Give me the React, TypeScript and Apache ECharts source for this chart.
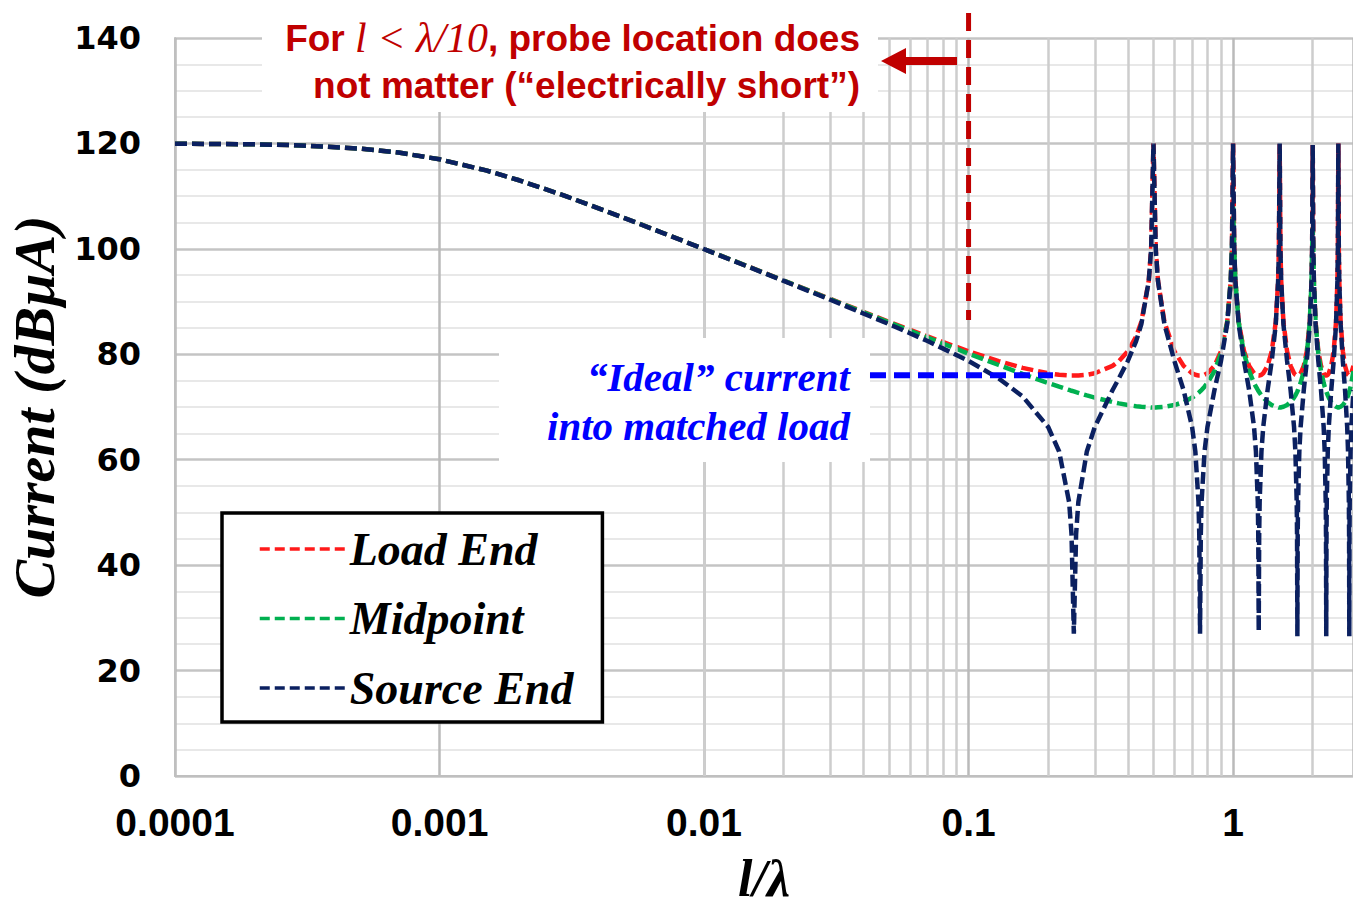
import React, { useEffect, useRef } from 'react';
import * as echarts from 'echarts';

// Electrical length l/λ of the sampled points
const ratio = [
  0.0001, 0.0002, 0.0003, 0.0005, 0.0007, 0.001, 0.0015, 0.002, 0.003, 0.005, 0.007,
  0.01, 0.015, 0.02, 0.03, 0.05, 0.07, 0.1, 0.13, 0.16,
  0.2, 0.22, 0.24, 0.245, 0.25, 0.255, 0.26, 0.28, 0.3, 0.35, 0.37, 0.4, 0.43, 0.45, 0.48, 0.49, 0.5,
  0.51, 0.52, 0.55, 0.6, 0.65, 0.7, 0.72, 0.74, 0.745, 0.75, 0.755, 0.76, 0.78, 0.8, 0.85, 0.9, 0.95, 0.98, 0.99, 1,
  1.01, 1.02, 1.05, 1.1, 1.15, 1.2, 1.22, 1.24, 1.245, 1.25, 1.255, 1.26, 1.28, 1.3, 1.35, 1.4, 1.45, 1.48, 1.49, 1.5,
  1.51, 1.52, 1.55, 1.6, 1.65, 1.7, 1.72, 1.74, 1.745, 1.75, 1.755, 1.76, 1.78, 1.8, 1.85, 1.9, 1.95, 1.98, 1.99, 2,
  2.01, 2.02, 2.05, 2.1, 2.15, 2.2, 2.22, 2.24, 2.245, 2.25, 2.255, 2.26, 2.28, 2.3, 2.35, 2.4, 2.45, 2.48, 2.49, 2.5,
  2.51, 2.52, 2.55, 2.6, 2.65, 2.7, 2.72, 2.74, 2.745, 2.75, 2.755, 2.76, 2.78, 2.8, 2.85,
];

// Current in dBµA at the load end
const loadEnd = [
  119.96, 119.83, 119.63, 119.03, 118.27, 116.99, 114.88, 113.01, 110.0, 105.85, 103.01,
  99.96, 96.47, 93.99, 90.5, 86.16, 83.38, 80.57, 78.71, 77.43,
  76.4, 76.11, 75.98, 75.96, 75.96, 75.96, 75.98, 76.11, 76.4, 77.8, 78.71, 80.57, 83.38, 86.16, 93.99, 99.96, 120,
  99.96, 93.99, 86.16, 80.57, 77.8, 76.4, 76.11, 75.98, 75.96, 75.96, 75.96, 75.98, 76.11, 76.4, 77.8, 80.57, 86.16, 93.99, 99.96, 120,
  99.96, 93.99, 86.16, 80.57, 77.8, 76.4, 76.11, 75.98, 75.96, 75.96, 75.96, 75.98, 76.11, 76.4, 77.8, 80.57, 86.16, 93.99, 99.96, 120,
  99.96, 93.99, 86.16, 80.57, 77.8, 76.4, 76.11, 75.98, 75.96, 75.96, 75.96, 75.98, 76.11, 76.4, 77.8, 80.57, 86.16, 93.99, 99.96, 119.7,
  99.96, 93.99, 86.16, 80.57, 77.8, 76.4, 76.11, 75.98, 75.96, 75.96, 75.96, 75.98, 76.11, 76.4, 77.8, 80.57, 86.16, 93.99, 99.96, 120,
  99.96, 93.99, 86.16, 80.57, 77.8, 76.4, 76.11, 75.98, 75.96, 75.96, 75.96, 75.98, 76.11, 76.4, 77.8,
];

// Current in dBµA at the midpoint of the line
const midpoint = [
  119.96, 119.83, 119.63, 119.03, 118.27, 116.99, 114.88, 113.01, 110.0, 105.85, 103.01,
  99.96, 96.46, 93.97, 90.46, 86.05, 83.17, 80.13, 77.97, 76.28,
  74.56, 73.85, 73.23, 73.08, 72.95, 72.81, 72.69, 72.2, 71.78, 70.94, 70.69, 70.37, 70.15, 70.05, 69.95, 69.9, 69.9,
  69.9, 69.95, 70.05, 70.37, 70.94, 71.78, 72.2, 72.69, 72.81, 72.95, 73.08, 73.23, 73.85, 74.56, 76.8, 80.13, 86.05, 93.97, 99.96, 108,
  99.96, 93.97, 86.05, 80.13, 76.8, 74.56, 73.85, 73.23, 73.08, 72.95, 72.81, 72.69, 72.2, 71.78, 70.94, 70.37, 70.05, 69.95, 69.9, 69.9,
  69.9, 69.95, 70.05, 70.37, 70.94, 71.78, 72.2, 72.69, 72.81, 72.95, 73.08, 73.23, 73.85, 74.56, 76.8, 80.13, 86.05, 93.97, 99.96, 104,
  99.96, 93.97, 86.05, 80.13, 76.8, 74.56, 73.85, 73.23, 73.08, 72.95, 72.81, 72.69, 72.2, 71.78, 70.94, 70.37, 70.05, 69.95, 69.9, 69.9,
  69.9, 69.95, 70.05, 70.37, 70.94, 71.78, 72.2, 72.69, 72.81, 72.95, 73.08, 73.23, 73.85, 74.56, 76.8,
];

// Current in dBµA at the source end
const sourceEnd = [
  119.96, 119.83, 119.63, 119.03, 118.27, 116.99, 114.88, 113.01, 110.0, 105.84, 103.0,
  99.94, 96.43, 93.92, 90.35, 85.72, 82.51, 78.73, 75.42, 72.01,
  66.2, 61.56, 51.94, 45.9, 27, 45.9, 51.94, 61.56, 66.2, 73.18, 75.42, 78.73, 82.51, 85.72, 93.92, 99.94, 120,
  99.94, 93.92, 85.72, 78.73, 73.18, 66.2, 61.56, 51.94, 45.9, 27, 45.9, 51.94, 61.56, 66.2, 73.18, 78.73, 85.72, 93.92, 99.94, 120,
  99.94, 93.92, 85.72, 78.73, 73.18, 66.2, 61.56, 51.94, 45.9, 27.5, 45.9, 51.94, 61.56, 66.2, 73.18, 78.73, 85.72, 93.92, 99.94, 120,
  99.94, 93.92, 85.72, 78.73, 73.18, 66.2, 61.56, 51.94, 45.9, 26.5, 45.9, 51.94, 61.56, 66.2, 73.18, 78.73, 85.72, 93.92, 99.94, 119.7,
  99.94, 93.92, 85.72, 78.73, 73.18, 66.2, 61.56, 51.94, 45.9, 26.5, 45.9, 51.94, 61.56, 66.2, 73.18, 78.73, 85.72, 93.92, 99.94, 120,
  99.94, 93.92, 85.72, 78.73, 73.18, 66.2, 61.56, 51.94, 45.9, 26.5, 45.9, 51.94, 61.56, 66.2, 73.18,
];

const seriesNames = ['Load End', 'Midpoint', 'Source End'];
const seriesColors = ['#ff1a1a', '#00b050', '#0b2060'];

const xTickLabels = ['0.0001', '0.001', '0.01', '0.1', '1'];
const xMin = 0.0001;
const xMax = 2.84;

// 2..9 lines inside each decade of the log axis
const minorRatios = [
  0.0002, 0.0003, 0.0004, 0.0005, 0.0006, 0.0007, 0.0008, 0.0009,
  0.002, 0.003, 0.004, 0.005, 0.006, 0.007, 0.008, 0.009,
  0.02, 0.03, 0.04, 0.05, 0.06, 0.07, 0.08, 0.09,
  0.2, 0.3, 0.4, 0.5, 0.6, 0.7, 0.8, 0.9,
  2,
];

// Electrically-short boundary marker (l = λ/10) and its lower end
const shortLimit = 0.1;
const shortMarkerEnd = 86.5;

// "Ideal" matched-load current level and its span along l/λ
const idealCurrent = 76;
const idealSpan = [0.0424, 0.2085];

const RED = '#c00000';
const BLUE = '#0000ff';

export default function App() {
  const ref = useRef<HTMLDivElement>(null);

  useEffect(() => {
    document.body.style.margin = '0';
    const chart = echarts.init(ref.current as HTMLDivElement, null, { renderer: 'svg' });
    const series = [loadEnd, midpoint, sourceEnd].map((ys, i) => ({
      name: seriesNames[i],
      type: 'line',
      data: ratio.map((x, k) => [x, ys[k]]),
      showSymbol: false,
      symbol: 'none',
      smooth: false,
      z: 3 + i,
      lineStyle: { color: seriesColors[i], width: 4.5, type: [12, 5] },
      itemStyle: { color: seriesColors[i] },
    }));

    chart.setOption({
      animation: false,
      backgroundColor: '#ffffff',
      grid: { left: 175, top: 38, right: 0, bottom: 134, containLabel: false, outerBoundsMode: 'none' },
      legend: {
        data: seriesNames,
        orient: 'vertical',
        left: 222,
        top: 513,
        itemWidth: 85,
        itemHeight: 14,
        itemGap: 23.5,
        padding: [13, 29, 11, 36],
        backgroundColor: '#ffffff',
        borderColor: '#000000',
        borderWidth: 3.5,
        borderRadius: 0,
        selectedMode: false,
        itemStyle: { opacity: 0, borderWidth: 0 },
        lineStyle: { type: [10, 5], width: 3.5 },
        textStyle: {
          fontFamily: 'Liberation Serif',
          fontStyle: 'italic',
          fontWeight: 'bold',
          fontSize: 46,
          lineHeight: 46,
          color: '#000000',
        },
      },
      xAxis: {
        type: 'log',
        logBase: 10,
        min: xMin,
        max: xMax,
        name: 'l/λ',
        nameLocation: 'middle',
        nameGap: 76,
        nameTextStyle: {
          fontFamily: 'Liberation Serif',
          fontStyle: 'italic',
          fontWeight: 'bold',
          fontSize: 52,
          lineHeight: 52,
          color: '#000000',
        },
        axisLine: { show: true, lineStyle: { color: '#bfbfbf', width: 2 } },
        axisTick: { show: false },
        axisLabel: {
          margin: 27,
          fontFamily: 'Liberation Sans',
          fontWeight: 'bold',
          fontSize: 39,
          color: '#000000',
          showMaxLabel: false,
          formatter: (v: number) => {
            const hit = xTickLabels.find((l) => Math.abs(Math.log10(v) - Math.log10(Number(l))) < 1e-6);
            return hit || '';
          },
        },
        splitLine: { show: true, lineStyle: { color: '#bababa', width: 2.5 } },
      },
      yAxis: {
        type: 'value',
        min: 0,
        max: 140,
        interval: 20,
        name: 'Current (dBµA)',
        nameLocation: 'middle',
        nameRotate: 90,
        nameGap: 111,
        nameTextStyle: {
          fontFamily: 'Liberation Serif',
          fontStyle: 'italic',
          fontWeight: 'bold',
          fontSize: 58,
          color: '#000000',
        },
        axisLine: { show: true, lineStyle: { color: '#bfbfbf', width: 2 } },
        axisTick: { show: false },
        axisLabel: {
          margin: 34,
          fontFamily: 'DejaVu Sans',
          fontWeight: 'bold',
          fontSize: 32,
          color: '#000000',
        },
        splitLine: { show: true, lineStyle: { color: '#c4c4c4', width: 2.5 } },
        minorTick: { show: false, splitNumber: 4 },
        minorSplitLine: { show: true, lineStyle: { color: '#e8e8e8', width: 2 } },
      },
      series: [
        {
          type: 'line',
          data: [],
          silent: true,
          z: 1,
          markLine: {
            silent: true,
            symbol: ['none', 'none'],
            label: { show: false },
            emphasis: { disabled: true },
            lineStyle: { color: '#cdcdcd', width: 2.5, type: 'solid' },
            data: minorRatios.map((v) => ({ xAxis: v })),
          },
        },
        ...series,
      ],
    });

    const toPx = (x: number, y: number) =>
      chart.convertToPixel({ xAxisIndex: 0, yAxisIndex: 0 }, [x, y]) as number[];
    const shortTop = toPx(shortLimit, shortMarkerEnd);
    const idealA = toPx(idealSpan[0], idealCurrent);
    const idealB = toPx(idealSpan[1], idealCurrent);

    const boldSans = { fontFamily: 'Liberation Sans', fontWeight: 'bold', fontSize: 37, fill: RED };
    const blueSerif = {
      fontFamily: 'Liberation Serif',
      fontStyle: 'italic',
      fontWeight: 'bold',
      fontSize: 41,
      fill: BLUE,
    };

    chart.setOption({
      graphic: [
        { type: 'rect', z: 10, shape: { x: 262, y: 8, width: 616, height: 104 }, style: { fill: '#ffffff' } },
        {
          type: 'text',
          z: 11,
          x: 860,
          y: 38,
          style: {
            text: '{a|For }{b|l < λ/10}{a|, probe location does}',
            align: 'right',
            verticalAlign: 'middle',
            rich: {
              a: boldSans,
              b: { fontFamily: 'Liberation Serif', fontStyle: 'italic', fontSize: 42, fill: RED },
            },
          },
        },
        {
          type: 'text',
          z: 11,
          x: 860,
          y: 85,
          style: { text: 'not matter (“electrically short”)', align: 'right', verticalAlign: 'middle', ...boldSans },
        },
        {
          type: 'polygon',
          z: 11,
          shape: { points: [[881, 61], [906, 48], [906, 57], [957, 57], [957, 65], [906, 65], [906, 74]] },
          style: { fill: RED },
        },
        {
          type: 'line',
          z: 12,
          shape: { x1: shortTop[0], y1: 13, x2: shortTop[0], y2: shortTop[1] },
          style: { stroke: RED, lineWidth: 5, lineDash: [18, 9] },
        },
        { type: 'rect', z: 10, shape: { x: 499, y: 338, width: 371, height: 124 }, style: { fill: '#ffffff' } },
        {
          type: 'text',
          z: 11,
          x: 850,
          y: 377,
          style: { text: '“Ideal” current', align: 'right', verticalAlign: 'middle', ...blueSerif },
        },
        {
          type: 'text',
          z: 11,
          x: 850,
          y: 426,
          style: { text: 'into matched load', align: 'right', verticalAlign: 'middle', ...blueSerif },
        },
        {
          type: 'line',
          z: 20,
          shape: { x1: idealA[0], y1: idealA[1], x2: idealB[0], y2: idealB[1] },
          style: { stroke: BLUE, lineWidth: 6, lineDash: [16, 8] },
        },
      ],
    });

    return () => chart.dispose();
  }, []);

  return <div ref={ref} style={{ width: 1353, height: 910 }} />;
}
